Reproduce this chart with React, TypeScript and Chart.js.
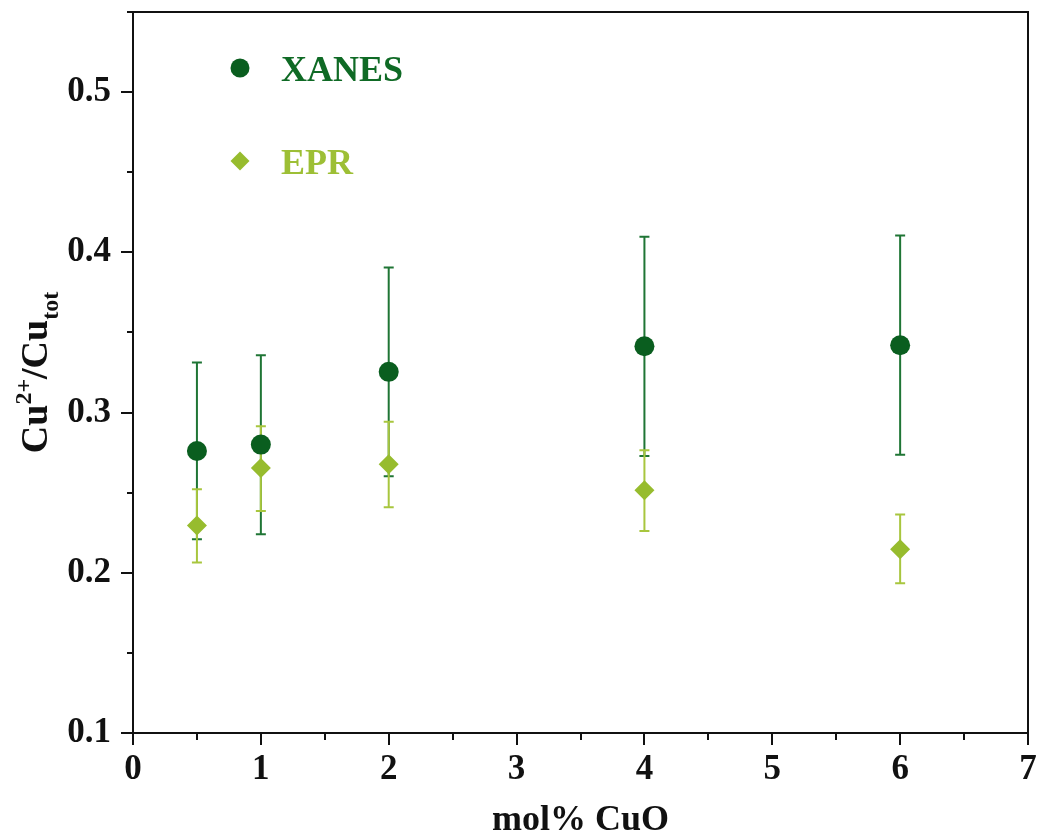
import React, { useEffect, useRef } from 'react';
import { Chart, registerables } from 'chart.js';

Chart.register(...registerables);

// ---- data ----
const xValues = [0.5, 1, 2, 4, 6];
const xanesValues = [0.276, 0.28, 0.3254, 0.3414, 0.342];
const xanesUpper = [0.3312, 0.3358, 0.3906, 0.4097, 0.4105];
const xanesLower = [0.2209, 0.2241, 0.2603, 0.2729, 0.2736];
const eprValues = [0.2295, 0.2654, 0.2678, 0.2515, 0.2147];
const eprUpper = [0.2521, 0.2915, 0.2942, 0.2765, 0.2363];
const eprLower = [0.2064, 0.2386, 0.2409, 0.2261, 0.1935];
const xTickLabels = ['0', '1', '2', '3', '4', '5', '6', '7'];
const yTickLabels = ['0.1', '0.2', '0.3', '0.4', '0.5'];
const seriesNames = ['XANES', 'EPR'];

const FONT = "'Liberation Serif', 'Times New Roman', serif";
const XANES_COLOR = '#0a5e1f';
const XANES_BAR = '#1f7535';
const XANES_TEXT = '#0f6a25';
const EPR_COLOR = '#97bc2e';
const EPR_BAR = '#a8c63e';
const EPR_TEXT = '#9dbf35';
const AXIS = '#111111';

const errorBarPlugin = {
  id: 'errorBars',
  beforeDatasetsDraw(chart: any) {
    const ctx = chart.ctx;
    const yScale = chart.scales.y;
    chart.data.datasets.forEach((ds: any, di: number) => {
      const meta = chart.getDatasetMeta(di);
      ctx.save();
      ctx.strokeStyle = ds.errColor;
      ctx.lineWidth = 2;
      meta.data.forEach((pt: any, i: number) => {
        const x = pt.x;
        const yTop = yScale.getPixelForValue(ds.errUpper[i]);
        const yBot = yScale.getPixelForValue(ds.errLower[i]);
        ctx.beginPath();
        ctx.moveTo(x, yTop);
        ctx.lineTo(x, yBot);
        ctx.moveTo(x - 5, yTop);
        ctx.lineTo(x + 5, yTop);
        ctx.moveTo(x - 5, yBot);
        ctx.lineTo(x + 5, yBot);
        ctx.stroke();
      });
      ctx.restore();
    });
  },
};

const decorPlugin = {
  id: 'decor',
  afterDraw(chart: any) {
    const ctx = chart.ctx;
    const { left, right, top, bottom } = chart.chartArea;
    const xScale = chart.scales.x;
    const yScale = chart.scales.y;
    ctx.save();
    ctx.strokeStyle = AXIS;
    ctx.lineWidth = 2;
    // top and right frame
    ctx.beginPath();
    ctx.moveTo(left, top);
    ctx.lineTo(right, top);
    ctx.lineTo(right, bottom);
    ctx.stroke();
    // ticks
    ctx.beginPath();
    xScale.ticks.forEach((t: any) => {
      const px = Math.round(xScale.getPixelForValue(t.value));
      const major = Math.abs(t.value - Math.round(t.value)) < 1e-6;
      ctx.moveTo(px, bottom);
      ctx.lineTo(px, bottom + (major ? 12 : 7));
    });
    yScale.ticks.forEach((t: any) => {
      const py = Math.round(yScale.getPixelForValue(t.value));
      const v = t.value * 10;
      const major = Math.abs(v - Math.round(v)) < 1e-6;
      ctx.moveTo(left, py);
      ctx.lineTo(left - (major ? 12 : 6), py);
    });
    ctx.stroke();

    // x axis title
    ctx.fillStyle = AXIS;
    ctx.font = `bold 36px ${FONT}`;
    ctx.textAlign = 'center';
    ctx.textBaseline = 'alphabetic';
    ctx.fillText('mol% CuO', (left + right) / 2, 830);

    // y axis title with superscript / subscript
    const parts = [
      { t: 'Cu', size: 38, dy: 0 },
      { t: '2+', size: 24, dy: -16 },
      { t: '/Cu', size: 38, dy: 0 },
      { t: 'tot', size: 24, dy: 11 },
    ];
    let total = 0;
    parts.forEach((p) => {
      ctx.font = `bold ${p.size}px ${FONT}`;
      total += ctx.measureText(p.t).width;
    });
    ctx.save();
    ctx.translate(47, (top + bottom) / 2);
    ctx.rotate(-Math.PI / 2);
    ctx.textAlign = 'left';
    let cx = -total / 2;
    parts.forEach((p) => {
      ctx.font = `bold ${p.size}px ${FONT}`;
      ctx.fillText(p.t, cx, p.dy);
      cx += ctx.measureText(p.t).width;
    });
    ctx.restore();

    // legend
    const lx = 240;
    const items = [
      { y: 68, color: XANES_COLOR, text: XANES_TEXT, style: 'circle' },
      { y: 161, color: EPR_COLOR, text: EPR_TEXT, style: 'diamond' },
    ];
    items.forEach((it, i) => {
      ctx.fillStyle = it.color;
      ctx.beginPath();
      if (it.style === 'circle') {
        ctx.arc(lx, it.y, 9.5, 0, Math.PI * 2);
      } else {
        ctx.moveTo(lx - 9.5, it.y);
        ctx.lineTo(lx, it.y - 9.5);
        ctx.lineTo(lx + 9.5, it.y);
        ctx.lineTo(lx, it.y + 9.5);
        ctx.closePath();
      }
      ctx.fill();
      ctx.fillStyle = it.text;
      ctx.font = `bold 36px ${FONT}`;
      ctx.textAlign = 'left';
      ctx.textBaseline = 'alphabetic';
      ctx.fillText(seriesNames[i], 281, it.y + 13);
    });
    ctx.restore();
  },
};

export default function App() {
  const canvasRef = useRef<HTMLCanvasElement | null>(null);

  useEffect(() => {
    const canvas = canvasRef.current;
    if (!canvas) return;
    const chart = new Chart(canvas, {
      type: 'scatter',
      data: {
        datasets: [
          {
            label: seriesNames[0],
            data: xValues.map((x, i) => ({ x, y: xanesValues[i] })),
            backgroundColor: XANES_COLOR,
            borderColor: XANES_COLOR,
            borderWidth: 0,
            pointStyle: 'circle',
            pointRadius: 10,
            errUpper: xanesUpper,
            errLower: xanesLower,
            errColor: XANES_BAR,
          } as any,
          {
            label: seriesNames[1],
            data: xValues.map((x, i) => ({ x, y: eprValues[i] })),
            backgroundColor: EPR_COLOR,
            borderColor: EPR_COLOR,
            borderWidth: 0,
            pointStyle: 'rectRot',
            pointRadius: 10,
            errUpper: eprUpper,
            errLower: eprLower,
            errColor: EPR_BAR,
          } as any,
        ],
      },
      options: {
        animation: false,
        responsive: false,
        layout: { padding: { top: 12, right: 10, left: 0, bottom: 0 } },
        plugins: {
          legend: { display: false },
          tooltip: { enabled: false },
        },
        scales: {
          x: {
            type: 'linear',
            min: 0,
            max: 7,
            grid: { display: false, drawTicks: false },
            border: { display: true, color: AXIS, width: 2 },
            ticks: {
              stepSize: 0.5,
              autoSkip: false,
              maxRotation: 0,
              padding: 16,
              color: AXIS,
              font: { family: FONT, size: 35, weight: 'bold' },
              callback: (v: any) => {
                const n = Number(v);
                return Math.abs(n - Math.round(n)) < 1e-6 ? xTickLabels[Math.round(n)] : '';
              },
            },
            afterFit: (scale: any) => {
              scale.height = 101;
              scale.paddingLeft = 0;
              scale.paddingRight = 0;
              scale.paddingTop = 0;
              scale.paddingBottom = 0;
            },
          },
          y: {
            type: 'linear',
            min: 0.1,
            max: 0.55,
            grid: { display: false, drawTicks: false },
            border: { display: true, color: AXIS, width: 2 },
            ticks: {
              stepSize: 0.05,
              autoSkip: false,
              padding: 22,
              color: AXIS,
              font: { family: FONT, size: 35, weight: 'bold' },
              callback: (v: any) => {
                const n = Number(v) * 10;
                if (Math.abs(n - Math.round(n)) < 1e-6) {
                  return yTickLabels[Math.round(n) - 1] ?? '';
                }
                return '';
              },
            },
            afterFit: (scale: any) => {
              scale.width = 133;
              scale.paddingLeft = 0;
              scale.paddingRight = 0;
              scale.paddingTop = 0;
              scale.paddingBottom = 0;
            },
          },
        },
      } as any,
      plugins: [errorBarPlugin, decorPlugin],
    });
    return () => chart.destroy();
  }, []);

  return (
    <div style={{ position: 'absolute', left: 0, top: 0, width: 1038, height: 834, background: '#fff' }}>
      <canvas ref={canvasRef} width={1038} height={834} />
    </div>
  );
}
